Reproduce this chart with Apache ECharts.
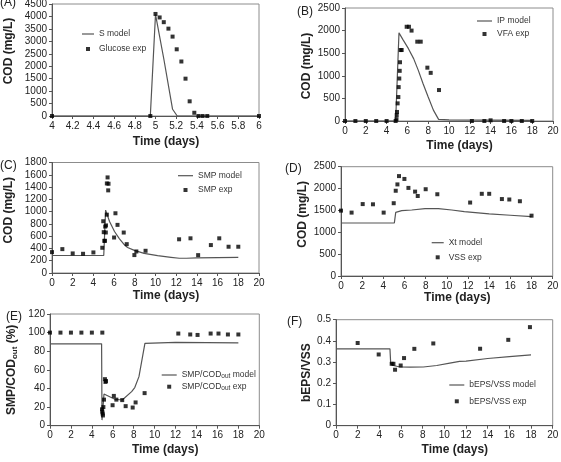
<!DOCTYPE html>
<html>
<head>
<meta charset="utf-8">
<script src="https://cdn.jsdelivr.net/npm/echarts@6/dist/echarts.min.js"></script>
<style>
  html, body { margin: 0; background: #fff; }
  #chart { width: 561px; height: 462px; }
</style>
</head>
<body>
<div id="chart"></div>
<script>
// ---- data (x = days, y = value) ----
const sModel = [[4, 0], [4.95, 0], [5.0, 4080], [5.08, 2300], [5.165, 270], [5.21, 0], [6, 0]];
const glucoseExp = [[4, 0], [4.95, 0], [5.0, 4100], [5.04, 3960], [5.08, 3770], [5.125, 3510], [5.165, 3190],
  [5.205, 2680], [5.25, 2190], [5.29, 1500], [5.33, 590], [5.375, 130], [5.415, 0], [5.455, 0], [5.5, 0], [6, 0]];

const ipModel = [[0, 0], [4.87, 0], [5.19, 1950], [5.6, 1790], [6.1, 1600], [6.6, 1380], [7.05, 1120],
  [7.5, 830], [8.0, 530], [8.5, 240], [9.0, 35], [10, 25], [14, 20], [18, 15]];
const vfaExp = [[0, 0], [1, 0], [2, 0], [3, 0], [4, 0], [4.87, 0], [4.95, 40], [4.97, 130], [5.0, 200],
  [5.06, 390], [5.13, 530], [5.16, 750], [5.22, 940], [5.26, 1110], [5.29, 1300], [5.35, 1570], [5.45, 1570],
  [5.93, 2085], [6.15, 2085], [6.4, 2000], [6.95, 1755], [7.28, 1755], [7.92, 1180], [8.24, 1065], [9.04, 685],
  [12.2, 0], [13.4, 0], [14.0, 15], [15.3, 0], [16.0, 0], [17.0, 0], [18.0, 0]];

const smpModel = [[0, 285], [5.0, 285], [5.18, 1025], [5.56, 840], [6.04, 676], [6.52, 557], [7.0, 460],
  [7.3, 416], [7.96, 368], [8.9, 320], [10.2, 282], [11.5, 256], [12.3, 240], [13, 240], [14, 246], [16, 252], [18, 256]];
const smpExp = [[0, 340], [1, 389], [2, 319], [3, 313], [4, 335], [4.86, 411], [4.95, 843], [5.0, 665],
  [5.05, 524], [5.12, 524], [5.14, 757], [5.2, 660], [5.22, 775], [5.3, 950], [5.3, 1459], [5.37, 1557],
  [5.43, 1346], [5.46, 1454], [6.0, 578], [6.13, 973], [6.33, 784], [6.93, 659], [7.22, 470], [7.96, 292],
  [8.15, 351], [9.04, 362], [12.28, 549], [13.38, 565], [14.12, 291], [15.35, 455], [16.16, 565], [17.06, 428], [18, 428]];

const xtModel = [[0, 1212], [5.04, 1212], [5.17, 1457], [5.74, 1494], [6.68, 1510], [7.94, 1540], [9.2, 1540],
  [10.46, 1510], [11.65, 1472], [14, 1420], [16, 1390], [18, 1360]];
const vssExp = [[0, 1495], [1, 1450], [2.05, 1645], [3.02, 1640], [4.03, 1450], [4.98, 1665], [5.17, 1950],
  [5.33, 2095], [5.48, 2285], [5.99, 2220], [6.37, 2015], [7.0, 1930], [7.25, 1830], [8.0, 1985], [9.1, 1870],
  [12.2, 1680], [13.3, 1880], [14, 1880], [15.2, 1760], [15.9, 1750], [16.9, 1710], [18, 1380]];

const ratioModel = [[0, 88], [4.93, 88], [4.97, 6], [5.16, 34], [6.2, 28.4], [6.9, 27.6], [7.8, 36.6],
  [8.1, 41], [8.5, 52.7], [9.07, 88.5], [12, 89.5], [18, 89]];
const ratioExp = [[0, 100], [1, 100], [2, 100], [3, 100], [4, 100], [5, 100], [4.97, 17.6], [5.0, 15],
  [5.03, 13], [5.06, 11], [5.1, 20], [5.16, 28], [5.25, 50], [5.3, 47], [5.35, 48], [5.98, 22], [6.1, 32],
  [6.34, 28], [6.9, 27.5], [7.23, 21], [7.9, 19.5], [8.18, 25], [9.04, 35], [12.26, 99], [13.4, 98],
  [14.1, 97.5], [15.35, 99], [16.1, 99], [17, 98], [18, 98]];

const bepsModel = [[0, 0.3625], [4.98, 0.3625], [5.05, 0.292], [5.3, 0.284], [5.9, 0.277], [6.83, 0.276],
  [8.06, 0.277], [9.3, 0.284], [10.5, 0.295], [11.4, 0.303], [12, 0.305], [14, 0.317], [16, 0.326], [18, 0.334]];
const bepsExp = [[2, 0.39], [3.94, 0.336], [5.14, 0.292], [5.3, 0.292], [5.45, 0.264], [5.97, 0.284],
  [6.28, 0.319], [7.23, 0.3625], [8.98, 0.388], [13.3, 0.363], [15.9, 0.405], [17.9, 0.465]];

// axis ranges
const xMin = [4, 0, 0, 0, 0, 0];
const xMax = [6, 20, 20, 20, 20, 20];
const xStep = [0.2, 2, 2, 2, 2, 2];
const yMax = [4500, 2500, 1800, 2500, 120, 0.5];
const yStep = [500, 500, 200, 500, 20, 0.1];
const yNames = ['COD (mg/L)', 'COD (mg/L)', 'COD (mg/L)', 'COD (mg/L)', 'SMP/COD{sub|out} (%)', 'bEPS/VSS'];
const panelLabels = ['(A)', '(B)', '(C)', '(D)', '(E)', '(F)'];
const modelNames = ['S model', 'IP model', 'SMP model', 'Xt model', 'SMP/CODout model', 'bEPS/VSS model'];
const expNames = ['Glucose exp', 'VFA exp', 'SMP exp', 'VSS exp', 'SMP/CODout exp', 'bEPS/VSS exp'];
const modelData = [sModel, ipModel, smpModel, xtModel, ratioModel, bepsModel];
const expData = [glucoseExp, vfaExp, smpExp, vssExp, ratioExp, bepsExp];

// ---- layout (pixels) ----
const boxes = [[52, 4, 259, 116], [345, 8, 553, 121], [52, 162.5, 259, 273], [341, 166.7, 552.7, 276],
  [50, 314, 259.3, 425.7], [336, 319.7, 552.7, 425.7]];
const xNameGap = [19.5, 18.5, 17, 15, 18, 17.5];
const yNameGap = [36.5, 30.5, 36.5, 26.5, 31.5, 18];
const yNamePad = [[0, 0, 0, 18], [0, 3, 0, 0], [0, 0, 0, 15], [0, 0, 0, 14], [0, 0, 0, 0], [0, 0, 0, 0]];
const legendPos = [[82, 29, 12, 5], [477, 16, 15, 3], [178, 170.7, 15, 4.3], [431.7, 237.7, 12, 4.6],
  [161.7, 370, 15, 1.7], [449.3, 380, 15, 6.3]];
const labelPos = [[0, 3], [297, 12], [0, 166], [285, 169], [6, 317], [287, 322]];

const FONT = "'Liberation Sans', Arial, sans-serif";
const INK = '#222';
const AXIS = '#555';
const plain = (v) => String(Math.round(v * 1000) / 1000);

const chart = echarts.init(document.getElementById('chart'), null, { renderer: 'canvas' });

const grids = boxes.map(([l, t, r, b]) => ({
  left: l, top: t, width: r - l, height: b - t,
  show: true, borderColor: '#8c8c8c', borderWidth: 1,
  containLabel: false, outerBoundsMode: 'none',
}));

const xAxes = boxes.map((_, i) => ({
  type: 'value', gridIndex: i,
  min: xMin[i], max: xMax[i], interval: xStep[i],
  name: 'Time (days)', nameLocation: 'middle', nameGap: xNameGap[i],
  nameTextStyle: { fontFamily: FONT, fontWeight: 'bold', fontSize: 12, color: INK, padding: [0, 0, 0, 21] },
  axisLine: { onZero: false, lineStyle: { color: AXIS, width: 1 } },
  axisTick: { show: true, length: 3, lineStyle: { color: AXIS } },
  axisLabel: { fontFamily: FONT, fontSize: 10, color: INK, margin: 5, formatter: plain },
  splitLine: { show: false },
}));

const yAxes = boxes.map((_, i) => ({
  type: 'value', gridIndex: i,
  min: 0, max: yMax[i], interval: yStep[i],
  name: yNames[i], nameLocation: 'middle', nameGap: yNameGap[i],
  nameTextStyle: {
    fontFamily: FONT, fontWeight: 'bold', fontSize: 12, color: INK, lineHeight: 14,
    padding: yNamePad[i],
    rich: { sub: { fontFamily: FONT, fontWeight: 'bold', fontSize: 8, color: INK, verticalAlign: 'bottom' } },
  },
  axisLine: { show: true, onZero: false, lineStyle: { color: AXIS, width: 1 } },
  axisTick: { show: true, length: 3, lineStyle: { color: AXIS } },
  axisLabel: { fontFamily: FONT, fontSize: 10, color: INK, margin: 5, formatter: plain },
  splitLine: { show: false },
}));

const series = [];
boxes.forEach((_, i) => {
  series.push({
    type: 'line', name: modelNames[i], data: modelData[i],
    xAxisIndex: i, yAxisIndex: i, symbol: 'none', showSymbol: false,
    lineStyle: { color: '#555', width: 1.2 }, itemStyle: { color: '#555' }, z: 2,
  });
  series.push({
    type: 'scatter', name: expNames[i], data: expData[i],
    xAxisIndex: i, yAxisIndex: i, symbol: 'rect', symbolSize: 4,
    itemStyle: { color: '#000' }, z: 3,
  });
});

const legends = legendPos.map(([l, t, w, gap], i) => ({
  left: l, top: t, orient: 'vertical', padding: 0,
  itemWidth: w, itemHeight: 4, itemGap: gap, symbolKeepAspect: true,
  selectedMode: false,
  data: [
    { name: modelNames[i], icon: 'path://M0,0H' + w + 'V1.2H0Z' },
    { name: expNames[i], icon: 'path://M0,0h1v1h-1z' },
  ],
  formatter: (name) => name.replace('CODout', 'COD{sub|out}'),
  textStyle: {
    fontFamily: FONT, fontSize: 8.5, color: '#333', lineHeight: 10,
    rich: { sub: { fontFamily: FONT, fontSize: 6.5, color: '#333', verticalAlign: 'bottom' } },
  },
}));

const labels = panelLabels.map((txt, i) => ({
  type: 'text', x: labelPos[i][0], y: labelPos[i][1],
  style: { text: txt, fontFamily: FONT, fontSize: 12, fill: INK, verticalAlign: 'middle' },
}));

chart.setOption({
  animation: false,
  backgroundColor: '#fff',
  grid: grids,
  xAxis: xAxes,
  yAxis: yAxes,
  legend: legends,
  series,
  graphic: labels,
});
</script>
</body>
</html>
